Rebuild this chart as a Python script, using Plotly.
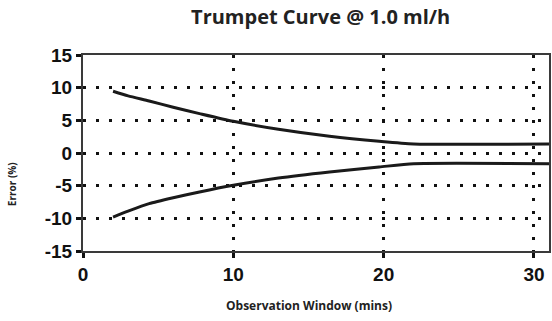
import plotly.graph_objects as go

# Observation window (minutes) and the upper / lower error envelope (%)
window_min = [2, 3, 4.4, 6, 7.75, 10, 13, 16.4, 19.7, 22, 31]
upper_err = [9.45, 8.75, 7.96, 7.0, 6.03, 4.85, 3.63, 2.56, 1.79, 1.38, 1.38]
lower_err = [-9.8, -8.9, -7.75, -6.85, -5.97, -4.95, -3.83, -2.9, -2.14, -1.63, -1.63]

x_ticks = [0, 10, 20, 30]
y_ticks = [-15, -10, -5, 0, 5, 10, 15]
y_tick_text = ["-15", "-10", "-5", "0", "5", "10", "15"]

fig = go.Figure()
for ys in (upper_err, lower_err):
    fig.add_trace(go.Scatter(
        x=window_min, y=ys, mode="lines",
        line=dict(color="#1a1a1a", width=3, shape="spline", smoothing=0.6),
        showlegend=False, hoverinfo="skip",
    ))

tick_font = dict(family="Liberation Sans, Arial, sans-serif", size=19,
                 color="#111111", weight="bold")
grid_style = dict(showgrid=True, gridcolor="#111111", gridwidth=3,
                  griddash="3px,10px", zeroline=False,
                  showline=True, linecolor="#3a3a3a", linewidth=2, mirror=True,
                  ticks="outside", ticklen=5, tickwidth=3, tickcolor="#111111",
                  tickfont=tick_font)

fig.update_xaxes(range=[0, 31], tickvals=x_ticks, **grid_style)
fig.update_yaxes(range=[-15, 15], tickvals=y_ticks, ticktext=y_tick_text,
                 **grid_style)

fig.update_layout(
    width=552, height=321,
    margin=dict(l=83, r=1, t=55, b=70),
    plot_bgcolor="white", paper_bgcolor="white",
    title=dict(text="Trumpet Curve @ 1.0 ml/h",
               font=dict(family="Open Sans, sans-serif", size=20,
                         color="#222222", weight="bold"),
               x=0.51, xref="paper", xanchor="center",
               y=1 - 17 / 321, yref="container", yanchor="middle"),
    annotations=[
        dict(text="Observation Window (mins)", xref="paper", yref="paper",
             x=0.485, y=-0.276, xanchor="center", yanchor="middle",
             showarrow=False,
             font=dict(family="Open Sans, sans-serif", size=12,
                       color="#222222", weight="bold")),
        dict(text="Error (%)", xref="paper", yref="paper",
             x=-0.152, y=0.342, xanchor="center", yanchor="middle",
             textangle=-90, showarrow=False,
             font=dict(family="Open Sans, sans-serif", size=10,
                       color="#222222", weight="bold")),
    ],
)

fig.write_html("out.html")
